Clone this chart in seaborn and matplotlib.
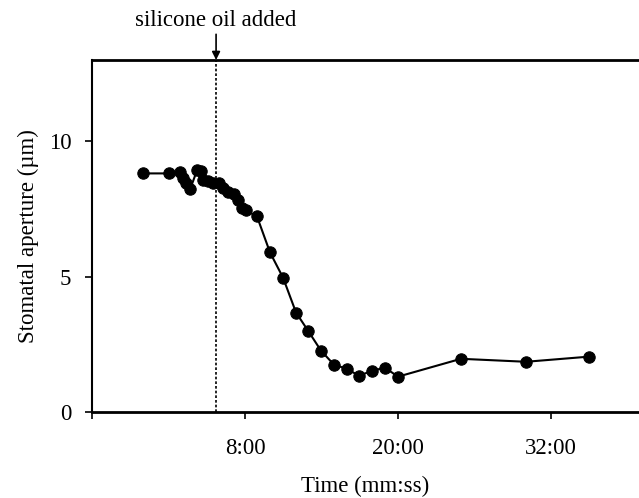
import matplotlib
matplotlib.use("Agg")
import matplotlib.pyplot as plt
import seaborn as sns
import pandas as pd

# Data (time in minutes, stomatal aperture in µm)
time_min = [0.00, 2.04, 2.90, 3.14, 3.37, 3.69, 4.24, 4.55, 4.71, 5.10, 5.49,
            5.96, 6.27, 6.67, 7.14, 7.45, 7.76, 8.08, 8.94, 9.96, 10.98, 12.00,
            12.94, 13.96, 14.98, 16.00, 16.94, 17.96, 18.98, 20.00, 24.94,
            30.04, 34.98]
aperture = [8.81, 8.81, 8.85, 8.63, 8.44, 8.22, 8.93, 8.89, 8.56, 8.52, 8.44,
            8.44, 8.26, 8.11, 8.04, 7.81, 7.52, 7.44, 7.22, 5.89, 4.96, 3.67,
            3.00, 2.26, 1.74, 1.59, 1.33, 1.52, 1.63, 1.30, 1.96, 1.85, 2.04]
x_ticks = [-4, 8, 20, 32]
x_tick_labels = ["", "8:00", "20:00", "32:00"]
y_ticks = [0, 5, 10]
oil_added_time = 5.73

df = pd.DataFrame({"t": time_min, "a": aperture})

sns.set_theme(style="ticks")
plt.rcParams["font.family"] = ["Liberation Serif", "DejaVu Serif"]

fig = plt.figure(figsize=(6.39, 4.98), dpi=100)
ax = fig.add_axes([0.144, 0.173, 0.856, 0.7065])

sns.lineplot(data=df, x="t", y="a", ax=ax, color="black", marker="o",
             markersize=8.2, markeredgecolor="black", linewidth=1.5,
             estimator=None, sort=False)

ax.axvline(oil_added_time, color="black", linestyle=(0, (1.6, 1.2)), linewidth=1.2)

ax.set_xlim(-4, 38.9)
ax.set_ylim(0, 13)
ax.set_xticks(x_ticks)
ax.set_xticklabels(x_tick_labels)
ax.set_yticks(y_ticks)
ax.tick_params(axis="both", labelsize=16.5, length=5, width=1.2, colors="black",
               direction="out")
ax.tick_params(axis="x", pad=14)
ax.tick_params(axis="y", pad=10)
ax.set_xlabel("Time (mm:ss)", fontsize=16.5, labelpad=12, color="black")
ax.set_ylabel("Stomatal aperture (µm)", fontsize=16.5, labelpad=7, color="black")

for side in ["left", "bottom", "top"]:
    ax.spines[side].set_visible(True)
    ax.spines[side].set_color("black")
ax.spines["left"].set_linewidth(1.5)
ax.spines["bottom"].set_linewidth(2.0)
ax.spines["top"].set_linewidth(2.0)
ax.spines["right"].set_visible(False)

ax.text(oil_added_time, 14.45, "silicone oil added", ha="center", va="center",
        fontsize=16.5, color="black", clip_on=False)
ax.annotate("", xy=(oil_added_time, 13.0), xytext=(oil_added_time, 13.95),
            arrowprops=dict(arrowstyle="-|>", color="black", lw=1.2,
                            mutation_scale=12, shrinkA=0, shrinkB=0),
            annotation_clip=False)

fig.savefig("out.png", dpi=100)
